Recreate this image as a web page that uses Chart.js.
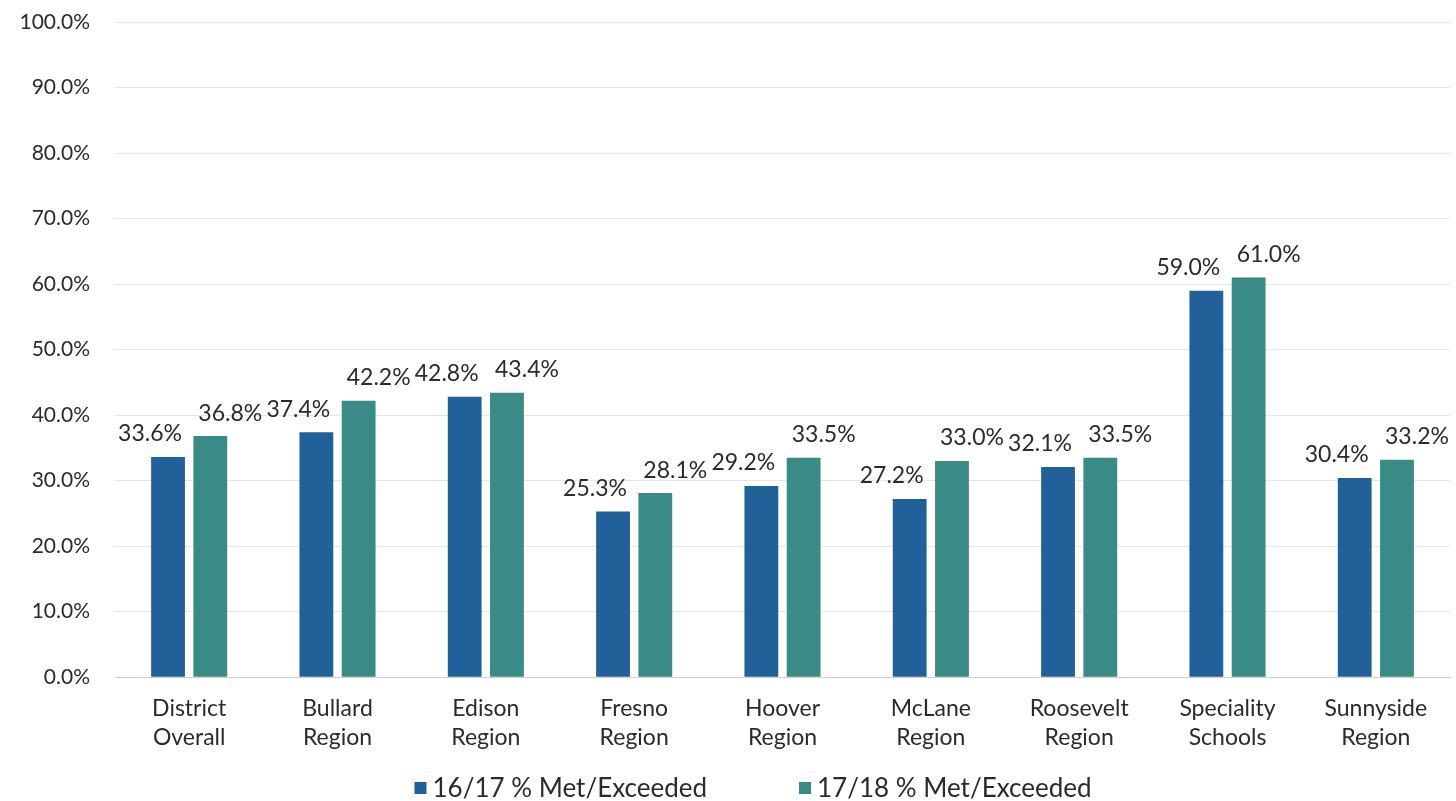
<!DOCTYPE html>
<html>
<head>
<meta charset="utf-8">
<script src="https://cdn.jsdelivr.net/npm/chart.js@4"></script>
<style>
html,body{margin:0;padding:0;background:#fff;}
#wrap{width:1456px;height:801px;position:relative;}
</style>
</head>
<body>
<div id="wrap"><canvas id="c" width="1456" height="801"></canvas></div>
<script>
const categories = [
  ["District","Overall"],["Bullard","Region"],["Edison","Region"],["Fresno","Region"],
  ["Hoover","Region"],["McLane","Region"],["Roosevelt","Region"],["Speciality","Schools"],["Sunnyside","Region"]
];
const series1Label = "16/17 % Met/Exceeded";
const series2Label = "17/18 % Met/Exceeded";
const series1 = [33.6, 37.4, 42.8, 25.3, 29.2, 27.2, 32.1, 59.0, 30.4];
const series2 = [36.8, 42.2, 43.4, 28.1, 33.5, 33.0, 33.5, 61.0, 33.2];
const yTicks = [0,10,20,30,40,50,60,70,80,90,100];

const FONT = "Lato, 'Open Sans', sans-serif";
const TEXT = "#2b2b2b";
const labelShift = [-18, 20];

const dataLabels = {
  id: 'dataLabels',
  afterDatasetsDraw(chart) {
    const ctx = chart.ctx;
    ctx.save();
    ctx.font = "23px " + FONT;
    ctx.fillStyle = TEXT;
    ctx.textAlign = "center";
    ctx.textBaseline = "middle";
    chart.data.datasets.forEach((ds, i) => {
      const meta = chart.getDatasetMeta(i);
      meta.data.forEach((bar, j) => {
        ctx.fillText(ds.data[j].toFixed(1) + "%", bar.x + labelShift[i], bar.y - 23);
      });
    });
    ctx.restore();
  }
};

const bottomLegend = {
  id: 'bottomLegend',
  afterDraw(chart) {
    const ctx = chart.ctx;
    ctx.save();
    ctx.font = "26px " + FONT;
    ctx.textBaseline = "middle";
    ctx.textAlign = "left";
    const box = 12, gap = 6, spacing = 92;
    const items = chart.data.datasets.map(ds => ({ text: ds.label, color: ds.backgroundColor, w: ctx.measureText(ds.label).width }));
    let total = 0;
    items.forEach((it, k) => { total += box + gap + it.w + (k ? spacing : 0); });
    let x = chart.width / 2 + 25 - total / 2;
    const y = chart.height - 13;
    items.forEach(it => {
      ctx.fillStyle = it.color;
      ctx.fillRect(x, y - box / 2, box, box);
      ctx.fillStyle = TEXT;
      ctx.fillText(it.text, x + box + gap, y + 1);
      x += box + gap + it.w + spacing;
    });
    ctx.restore();
  }
};

new Chart(document.getElementById('c'), {
  type: 'bar',
  data: {
    labels: categories,
    datasets: [
      { label: series1Label, data: series1, backgroundColor: '#22609a', barPercentage: 0.8, categoryPercentage: 0.57 },
      { label: series2Label, data: series2, backgroundColor: '#3a8a85', barPercentage: 0.8, categoryPercentage: 0.57 }
    ]
  },
  options: {
    responsive: false,
    animation: false,
    devicePixelRatio: 1,
    layout: { padding: { top: 22, right: 6, left: 0, bottom: 32 } },
    plugins: {
      legend: { display: false },
      tooltip: { enabled: false }
    },
    scales: {
      x: {
        grid: { display: false, drawTicks: false },
        border: { display: true, color: '#cfcfcf' },
        ticks: { font: { family: FONT, size: 23, lineHeight: 1.3 }, color: TEXT, padding: 16, maxRotation: 0 }
      },
      y: {
        min: 0, max: 100,
        afterBuildTicks(scale) { scale.ticks = yTicks.map(v => ({ value: v })); },
        afterFit(scale) { scale.width = 115; },
        grid: { color: '#e6e6e6', drawTicks: true, tickLength: 22, tickColor: 'rgba(0,0,0,0)' },
        border: { display: false },
        ticks: {
          font: { family: FONT, size: 21 }, color: TEXT, padding: 3,
          callback: v => v.toFixed(1) + '%'
        }
      }
    }
  },
  plugins: [dataLabels, bottomLegend]
});
</script>
</body>
</html>
